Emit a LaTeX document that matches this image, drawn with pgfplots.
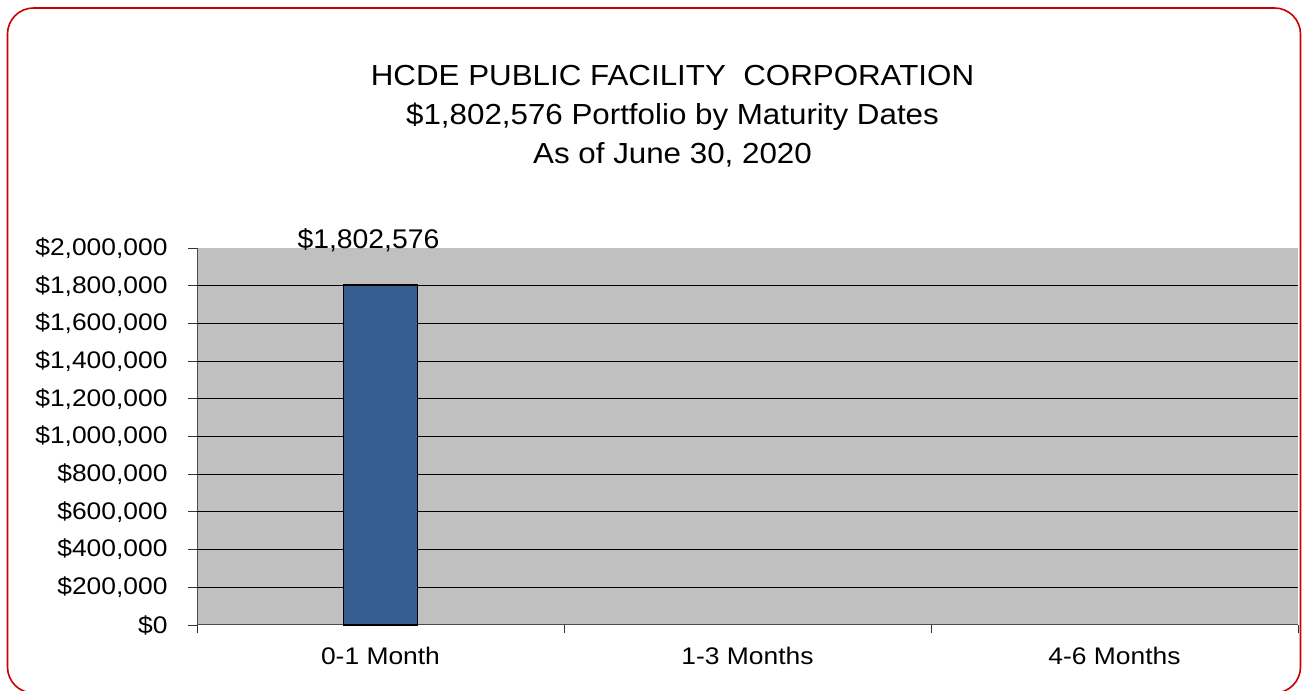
\documentclass[border=0pt]{standalone}
\usepackage{fontspec}
\setmainfont{Liberation Sans}
\newfontfamily\tickfont[FakeStretch=1.1]{Liberation Sans}
\newfontfamily\labelfont[FakeStretch=1.05]{Liberation Sans}
\newfontfamily\titlefont[FakeStretch=1.08]{Liberation Sans}
\usepackage{pgfplots}
\pgfplotsset{compat=1.18}
\definecolor{barblue}{RGB}{54,94,145}
\definecolor{plotgray}{RGB}{192,192,192}
\definecolor{framered}{RGB}{204,0,0}
\begin{document}
\begin{tikzpicture}[x=1pt,y=1pt]
\useasboundingbox (0,0) rectangle (1302,691);
\draw[framered, line width=1.6pt, rounded corners=26pt] (7.5,-2) rectangle (1300.5,683);
\node[align=center, font=\titlefont\fontsize{29}{39}\selectfont] at (672.5,574.5) {HCDE PUBLIC FACILITY\ \ CORPORATION\\ \$1,802,576 Portfolio by Maturity Dates\\ As of June 30, 2020};
\begin{axis}[
  at={(197pt,66pt)}, anchor=south west,
  width=1101pt, height=377pt, scale only axis,
  xmin=0, xmax=3, ymin=0, ymax=2000000,
  clip=false,
  axis background/.style={fill=plotgray},
  axis x line*=bottom, axis y line*=left,
  axis line style={draw=black!70, line width=1pt},
  ytick={0,200000,400000,600000,800000,1000000,1200000,1400000,1600000,1800000,2000000},
  yticklabels={\$0,{\$200,000},{\$400,000},{\$600,000},{\$800,000},{\$1,000,000},{\$1,200,000},{\$1,400,000},{\$1,600,000},{\$1,800,000},{\$2,000,000}},
  scaled y ticks=false,
  extra y ticks={200000,400000,600000,800000,1000000,1200000,1400000,1600000,1800000},
  extra y tick labels={},
  extra y tick style={grid=major},
  grid style={black, line width=1.1pt},
  tick align=outside,
  major tick length=9pt,
  minor tick length=8pt,
  xtick={0.5,1.5,2.5},
  xticklabels={0-1 Month,1-3 Months,4-6 Months},
  minor xtick={0,1,2,3},
  major x tick style={draw=none},
  tick style={black!80, line width=0.8pt},
  ticklabel style={font=\tickfont\fontsize{24}{28}\selectfont},
  xticklabel style={yshift=-10pt},
  yticklabel style={xshift=-17pt},
  ybar, bar width=74pt,
  nodes near coords={\$1,802,576},
  nodes near coords style={font=\labelfont\fontsize{27}{31}\selectfont, anchor=base, yshift=37pt, xshift=-12pt},
]
\addplot[fill=barblue, draw=black, line width=1.8pt] coordinates {(0.5,1802576)};
\end{axis}
\end{tikzpicture}
\end{document}
